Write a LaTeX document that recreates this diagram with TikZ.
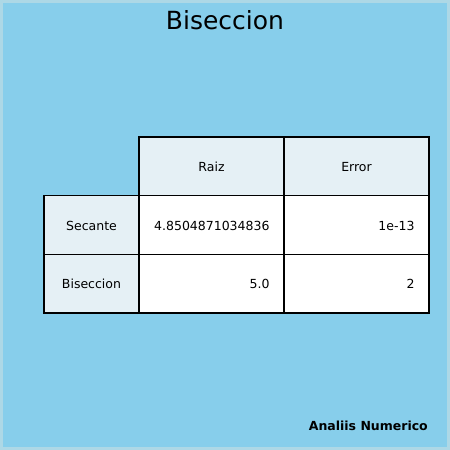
\documentclass[tikz,border=0pt]{standalone}
\usepackage{fontspec}
\setmainfont{DejaVu Sans}
\usetikzlibrary{positioning}

\definecolor{skyblue}{HTML}{87CEEB}
\definecolor{frameblue}{HTML}{ADD8E6}
\definecolor{headfill}{HTML}{E5F0F5}

\tikzset{
  cell/.style={draw=black, line width=1.5pt, outer sep=0pt, inner sep=0pt,
    minimum height=58.7pt, text height=10pt, text depth=0pt,
    font=\fontsize{12.5}{15}\selectfont},
  headcell/.style={cell, fill=headfill, minimum width=145pt},
  labcell/.style={cell, fill=headfill, minimum width=95pt},
  datacell/.style={cell, fill=white, text width=116pt, inner xsep=14.5pt, align=right}
}

\begin{document}
\begin{tikzpicture}
\useasboundingbox (0,0) rectangle (450pt,450pt);
% Background
\fill[frameblue] (0,0) rectangle (450pt,450pt);
\fill[skyblue] (3pt,3pt) rectangle (447pt,447pt);

% Title
\node[font=\fontsize{25}{30}\selectfont] (title) at (225pt,430pt) {Biseccion};

% Table header
\node[headcell, anchor=north west] (raiz) at (139pt,313pt) {Raiz};
\node[headcell, right=0pt of raiz] (error) {Error};

% Rows
\node[datacell, below=0pt of raiz] (secraiz) {4.8504871034836};
\node[datacell, below=0pt of error] (secerror) {1e-13};
\node[labcell, left=0pt of secraiz] (seclab) {Secante};

\node[datacell, below=0pt of secraiz] (bisraiz) {5.0};
\node[datacell, below=0pt of secerror] (biserror) {2};
\node[labcell, left=0pt of bisraiz] (bislab) {Biseccion};

% Footer
\node[anchor=east, inner sep=0pt, font=\fontsize{12.5}{15}\selectfont\bfseries] (footer) at (428pt,24pt) {Analiis Numerico};
\end{tikzpicture}
\end{document}
